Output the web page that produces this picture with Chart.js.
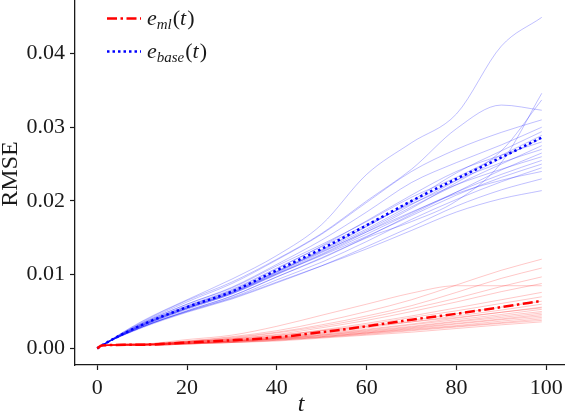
<!DOCTYPE html>
<html>
<head>
<meta charset="utf-8">
<script src="https://cdn.jsdelivr.net/npm/chart.js@4.4.1/dist/chart.umd.min.js"></script>
<style>
  html, body { margin: 0; padding: 0; background: #fff; }
  #wrap { width: 566px; height: 416px; position: relative; }
</style>
</head>
<body>
<div id="wrap"><canvas id="chart"></canvas></div>
<script>
/* ========= DADOS ========= */
// instantes amostrados (t)
const tSteps = [0, 1, 10, 20, 30, 40, 50, 60, 70, 80, 90, 99];

const xTicks = [0, 20, 40, 60, 80, 100];
const yTicks = [0.00, 0.01, 0.02, 0.03, 0.04];

// curvas médias
const meanMl   = [0, 0.0004, 0.0005, 0.0008, 0.0011, 0.0015, 0.0022, 0.0030, 0.0039, 0.0047, 0.0056, 0.00645];
const meanBase = [0, 0.0004, 0.0032, 0.0056, 0.0077, 0.0106, 0.0135, 0.0167, 0.0200, 0.0230, 0.0259, 0.0286];

// corridas individuais do baseline (azul)
const baseRuns = [
  [0, 0.0004, 0.0037, 0.0066, 0.0094, 0.0126, 0.0168, 0.0236, 0.0279, 0.0318, 0.0410, 0.0449],
  [0, 0.0004, 0.0036, 0.0065, 0.0090, 0.0121, 0.0156, 0.0200, 0.0243, 0.0298, 0.0330, 0.0323],
  [0, 0.0004, 0.0029, 0.0051, 0.0071, 0.0097, 0.0122, 0.0150, 0.0172, 0.0200, 0.0252, 0.0346],
  [0, 0.0004, 0.0032, 0.0055, 0.0076, 0.0104, 0.0132, 0.0162, 0.0195, 0.0228, 0.0268, 0.0337],
  [0, 0.0004, 0.0035, 0.0063, 0.0088, 0.0120, 0.0155, 0.0198, 0.0240, 0.0270, 0.0293, 0.0310],
  [0, 0.0004, 0.0034, 0.0060, 0.0083, 0.0114, 0.0147, 0.0185, 0.0225, 0.0252, 0.0276, 0.0300],
  [0, 0.0004, 0.0031, 0.0054, 0.0075, 0.0103, 0.0133, 0.0165, 0.0200, 0.0238, 0.0268, 0.0294],
  [0, 0.0004, 0.0034, 0.0060, 0.0082, 0.0112, 0.0141, 0.0172, 0.0205, 0.0232, 0.0262, 0.0289],
  [0, 0.0004, 0.0030, 0.0053, 0.0074, 0.0101, 0.0128, 0.0158, 0.0190, 0.0225, 0.0258, 0.0285],
  [0, 0.0004, 0.0033, 0.0057, 0.0079, 0.0108, 0.0139, 0.0173, 0.0208, 0.0240, 0.0262, 0.0280],
  [0, 0.0004, 0.0031, 0.0055, 0.0076, 0.0102, 0.0130, 0.0160, 0.0192, 0.0222, 0.0250, 0.0275],
  [0, 0.0004, 0.0032, 0.0057, 0.0078, 0.0105, 0.0134, 0.0166, 0.0198, 0.0228, 0.0252, 0.0270],
  [0, 0.0004, 0.0029, 0.0051, 0.0071, 0.0097, 0.0123, 0.0151, 0.0182, 0.0212, 0.0242, 0.0265],
  [0, 0.0004, 0.0033, 0.0058, 0.0080, 0.0109, 0.0138, 0.0168, 0.0196, 0.0222, 0.0243, 0.0260],
  [0, 0.0004, 0.0030, 0.0054, 0.0074, 0.0100, 0.0127, 0.0155, 0.0184, 0.0212, 0.0236, 0.0255],
  [0, 0.0004, 0.0031, 0.0055, 0.0075, 0.0101, 0.0126, 0.0152, 0.0180, 0.0208, 0.0232, 0.0250],
  [0, 0.0004, 0.0029, 0.0050, 0.0069, 0.0093, 0.0117, 0.0145, 0.0175, 0.0202, 0.0226, 0.0245],
  [0, 0.0004, 0.0032, 0.0056, 0.0077, 0.0104, 0.0131, 0.0158, 0.0185, 0.0210, 0.0228, 0.0240],
  [0, 0.0004, 0.0028, 0.0049, 0.0067, 0.0089, 0.0112, 0.0138, 0.0165, 0.0193, 0.0215, 0.0230],
  [0, 0.0004, 0.0029, 0.0050, 0.0068, 0.0090, 0.0112, 0.0135, 0.0160, 0.0185, 0.0203, 0.0214]
];

// corridas individuais do modelo ML (vermelho)
const mlRuns = [
  [0, 0.0004, 0.0006, 0.0010, 0.0016, 0.0024, 0.0036, 0.0050, 0.0066, 0.0086, 0.0106, 0.0121],
  [0, 0.0004, 0.0006, 0.0010, 0.0015, 0.0022, 0.0032, 0.0044, 0.0058, 0.0076, 0.0095, 0.0109],
  [0, 0.0004, 0.0005, 0.0009, 0.0014, 0.0021, 0.0030, 0.0041, 0.0054, 0.0068, 0.0084, 0.0097],
  [0, 0.0004, 0.0006, 0.0009, 0.0013, 0.0019, 0.0028, 0.0038, 0.0050, 0.0063, 0.0077, 0.0088],
  [0, 0.0004, 0.0006, 0.0012, 0.0018, 0.0030, 0.0045, 0.0060, 0.0075, 0.0085, 0.0085, 0.0085],
  [0, 0.0004, 0.0005, 0.0009, 0.0012, 0.0017, 0.0025, 0.0034, 0.0044, 0.0055, 0.0066, 0.0076],
  [0, 0.0004, 0.0005, 0.0008, 0.0012, 0.0016, 0.0024, 0.0032, 0.0042, 0.0051, 0.0061, 0.0070],
  [0, 0.0004, 0.0005, 0.0008, 0.0011, 0.0015, 0.0022, 0.0030, 0.0038, 0.0047, 0.0056, 0.0064],
  [0, 0.0004, 0.0005, 0.0008, 0.0011, 0.0015, 0.0021, 0.0028, 0.0036, 0.0044, 0.0052, 0.0060],
  [0, 0.0004, 0.0005, 0.0007, 0.0010, 0.0014, 0.0020, 0.0026, 0.0033, 0.0041, 0.0049, 0.0056],
  [0, 0.0004, 0.0005, 0.0007, 0.0010, 0.0014, 0.0019, 0.0025, 0.0032, 0.0039, 0.0046, 0.0053],
  [0, 0.0004, 0.0005, 0.0007, 0.0010, 0.0013, 0.0018, 0.0024, 0.0030, 0.0037, 0.0044, 0.0050],
  [0, 0.0004, 0.0005, 0.0007, 0.0009, 0.0013, 0.0017, 0.0022, 0.0028, 0.0034, 0.0040, 0.0046],
  [0, 0.0004, 0.0005, 0.0007, 0.0009, 0.0012, 0.0016, 0.0021, 0.0027, 0.0033, 0.0039, 0.0044],
  [0, 0.0004, 0.0004, 0.0006, 0.0009, 0.0012, 0.0016, 0.0021, 0.0026, 0.0031, 0.0037, 0.0042],
  [0, 0.0004, 0.0004, 0.0006, 0.0008, 0.0011, 0.0015, 0.0020, 0.0025, 0.0030, 0.0035, 0.0040],
  [0, 0.0004, 0.0004, 0.0006, 0.0008, 0.0011, 0.0015, 0.0019, 0.0024, 0.0029, 0.0034, 0.0038],
  [0, 0.0004, 0.0004, 0.0006, 0.0008, 0.0010, 0.0014, 0.0018, 0.0022, 0.0027, 0.0032, 0.0036],
  [0, 0.0004, 0.0005, 0.0007, 0.0010, 0.0013, 0.0018, 0.0023, 0.0029, 0.0036, 0.0042, 0.0048],
  [0, 0.0004, 0.0006, 0.0009, 0.0013, 0.0018, 0.0024, 0.0030, 0.0036, 0.0042, 0.0049, 0.0055]
];

/* ========= UTILITÁRIOS ========= */
const SERIF = '"Liberation Serif", "DejaVu Serif", serif';
const INK = "#1a1a1a";

function toPoints(values) {
  return values.map((v, i) => ({ x: tSteps[i], y: v }));
}

function thinLine(values, color) {
  return {
    data: toPoints(values),
    borderColor: color,
    borderWidth: 1,
    pointRadius: 0,
    cubicInterpolationMode: "monotone",
    order: 2
  };
}

// legenda em estilo "LaTeX" (subscritos)
function drawMathLabel(ctx, x, y, sub) {
  ctx.fillStyle = INK;
  ctx.textBaseline = "alphabetic";
  ctx.textAlign = "left";
  ctx.font = "italic 22px " + SERIF;
  ctx.fillText("e", x, y);
  x += ctx.measureText("e").width;
  ctx.font = "italic 15px " + SERIF;
  ctx.fillText(sub, x, y + 4);
  x += ctx.measureText(sub).width + 1;
  ctx.font = "22px " + SERIF;
  ctx.fillText("(", x, y);
  x += ctx.measureText("(").width;
  ctx.font = "italic 22px " + SERIF;
  ctx.fillText("t", x, y);
  x += ctx.measureText("t").width + 1;
  ctx.font = "22px " + SERIF;
  ctx.fillText(")", x, y);
}

const annotations = {
  id: "annotations",
  afterDraw(chart) {
    const ctx = chart.ctx;
    ctx.save();
    // amostras da legenda
    ctx.lineWidth = 2.5;
    ctx.strokeStyle = "#ff0000";
    ctx.setLineDash([10, 3.5, 2.5, 3.5]);
    ctx.beginPath(); ctx.moveTo(107, 18.5); ctx.lineTo(141, 18.5); ctx.stroke();
    ctx.strokeStyle = "#0000ff";
    ctx.setLineDash([2.5, 3]);
    ctx.beginPath(); ctx.moveTo(107, 51.5); ctx.lineTo(141, 51.5); ctx.stroke();
    ctx.setLineDash([]);
    drawMathLabel(ctx, 147, 25, "ml");
    drawMathLabel(ctx, 147, 58, "base");

    // títulos dos eixos
    ctx.fillStyle = INK;
    ctx.font = "24px " + SERIF;
    ctx.textAlign = "center";
    ctx.textBaseline = "middle";
    ctx.translate(11, 174);
    ctx.rotate(-Math.PI / 2);
    ctx.fillText("RMSE", 0, 0);
    ctx.setTransform(1, 0, 0, 1, 0, 0);
    ctx.font = "italic 24px " + SERIF;
    ctx.textBaseline = "alphabetic";
    ctx.fillText("t", 301, 411);
    ctx.restore();
  }
};

/* ========= GRÁFICO ========= */
function initChart() {
  const ctx = document.getElementById("chart").getContext("2d");

  const datasets = [
    {
      label: "e_ml(t)",
      data: toPoints(meanMl),
      borderColor: "#ff0000",
      borderWidth: 2.5,
      borderDash: [10, 3.5, 2.5, 3.5],
      pointRadius: 0,
      cubicInterpolationMode: "monotone",
      order: 0
    },
    {
      label: "e_base(t)",
      data: toPoints(meanBase),
      borderColor: "#0000ff",
      borderWidth: 2.5,
      borderDash: [2.5, 3],
      pointRadius: 0,
      cubicInterpolationMode: "monotone",
      order: 0
    }
  ];
  mlRuns.forEach(r => datasets.push(thinLine(r, "rgba(255,0,0,0.22)")));
  baseRuns.forEach(r => datasets.push(thinLine(r, "rgba(0,0,255,0.25)")));

  const axisCommon = {
    type: "linear",
    border: { display: true, color: INK, width: 1.3 },
    grid: { drawOnChartArea: false, drawTicks: true, tickLength: 5, tickWidth: 1.2, tickColor: INK },
    ticks: { color: INK, font: { family: SERIF, size: 22 } }
  };

  new Chart(ctx, {
    type: "line",
    data: { datasets },
    options: {
      responsive: true,
      maintainAspectRatio: false,
      animation: false,
      layout: { padding: { top: 0, right: 2, left: 0, bottom: 0 } },
      scales: {
        x: {
          ...axisCommon,
          min: -4.95, max: 103.95,
          ticks: { ...axisCommon.ticks, padding: 5, maxRotation: 0, callback: v => String(v) },
          afterBuildTicks: s => { s.ticks = xTicks.map(v => ({ value: v })); },
          afterFit: s => { s.height = 51; s.paddingLeft = 0; s.paddingRight = 0; }
        },
        y: {
          ...axisCommon,
          min: -0.00225, max: 0.04725,
          ticks: { ...axisCommon.ticks, padding: 5, callback: v => v.toFixed(2) },
          afterBuildTicks: s => { s.ticks = yTicks.map(v => ({ value: v })); },
          afterFit: s => { s.width = 75; s.paddingTop = 0; s.paddingBottom = 0; }
        }
      },
      plugins: { legend: { display: false }, tooltip: { enabled: false } }
    },
    plugins: [annotations]
  });
}

initChart();
</script>
</body>
</html>
